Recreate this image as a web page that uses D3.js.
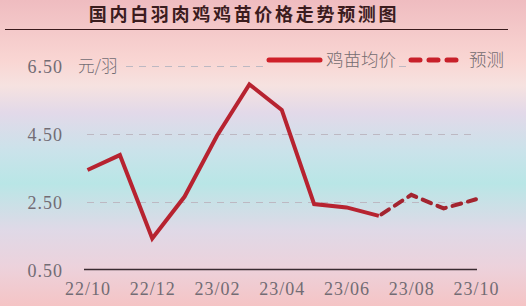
<!DOCTYPE html>
<html>
<head>
<meta charset="utf-8">
<script src="https://cdn.jsdelivr.net/npm/d3@7/dist/d3.min.js"></script>
<style>
  html, body { margin: 0; padding: 0; background: #fff; }
  svg { display: block; }
</style>
</head>
<body>
<svg id="chart" width="526" height="306"></svg>
<script>
// Monthly average price of white-feather broiler chicks (yuan per chick)
const months = ["22/10","22/11","22/12","23/01","23/02","23/03","23/04","23/05","23/06","23/07","23/08","23/09","23/10"];
const actual = [3.44, 3.88, 1.43, 2.66, 4.45, 5.96, 5.21, 2.44, 2.34, 2.09, null, null, null];
const forecast = [null, null, null, null, null, null, null, null, null, 2.09, 2.71, 2.31, 2.58];
const tickLabels = ["22/10","22/12","23/02","23/04","23/06","23/08","23/10"];
const yTicks = [0.5, 2.5, 4.5, 6.5];

const W = 526, H = 306;
const svg = d3.select("#chart");

// vertical pastel background
const defs = svg.append("defs");
const bg = defs.append("linearGradient")
  .attr("id", "bg").attr("gradientUnits", "userSpaceOnUse")
  .attr("x1", 0).attr("y1", 0).attr("x2", 0).attr("y2", H);
[[0, "#efbcc0"], [0.2, "#f9d6d3"], [0.28, "#f6e2e0"], [0.37, "#e2d9e9"], [0.5, "#c9e3ea"],
 [0.6, "#b9e6e6"], [0.75, "#dfd9e7"], [0.87, "#ecd2dc"], [1, "#f5c4c5"]]
  .forEach(([o, c]) => bg.append("stop").attr("offset", o).attr("stop-color", c));
svg.append("rect").attr("width", W).attr("height", H).attr("fill", "url(#bg)");

// title
svg.append("text")
  .attr("x", 244).attr("y", 21)
  .attr("text-anchor", "middle")
  .attr("font-family", "'Noto Sans CJK SC', sans-serif")
  .attr("font-weight", 700).attr("font-size", 18)
  .attr("letter-spacing", 2.7)
  .attr("fill", "#3b1c1e")
  .text("国内白羽肉鸡鸡苗价格走势预测图");
svg.append("line").attr("x1", 5).attr("x2", 508).attr("y1", 29.5).attr("y2", 29.5)
  .attr("stroke", "#3a1a1c").attr("stroke-width", 1.2);

const x = d3.scalePoint().domain(months).range([87.5, 476]);
const y = d3.scaleLinear().domain([0.5, 6.5]).range([270, 66]);

// dashed grid
const grid = svg.append("g").attr("transform", "translate(87,0)")
  .call(d3.axisLeft(y).tickValues(yTicks.slice(1)).tickSize(-388).tickFormat(""));
grid.select(".domain").remove();
grid.selectAll(".tick line").attr("stroke", "#bdb8c2").attr("stroke-width", 1)
  .attr("stroke-dasharray", "7,6");

// y tick labels
const yAxis = svg.append("g").attr("transform", "translate(63,0)")
  .call(d3.axisLeft(y).tickValues(yTicks).tickSize(0).tickPadding(0).tickFormat(d3.format(".2f")));
yAxis.select(".domain").remove();
yAxis.selectAll("text")
  .attr("font-family", "'Liberation Serif', serif").attr("font-size", 18)
  .attr("letter-spacing", 1).attr("fill", "#726c74").attr("dy", "0.36em");

// x axis
svg.append("line").attr("x1", 84).attr("x2", 477).attr("y1", 269.5).attr("y2", 269.5)
  .attr("stroke", "#3a2a30").attr("stroke-width", 1.5);
const xAxis = svg.append("g").attr("transform", "translate(0,270)")
  .call(d3.axisBottom(x).tickValues(tickLabels).tickSize(0).tickPadding(12));
xAxis.select(".domain").remove();
xAxis.selectAll("text")
  .attr("font-family", "'Liberation Serif', serif").attr("font-size", 18)
  .attr("letter-spacing", 1).attr("fill", "#726c74");

// unit label and legend sit on a patch of background that hides the grid
const cover = svg.append("g");
[[76, 46], [264, 133], [406, 100]].forEach(([cx, cw]) =>
  cover.append("rect").attr("x", cx).attr("y", 52).attr("width", cw).attr("height", 18).attr("fill", "url(#bg)"));

svg.append("text").attr("x", 78).attr("y", 72)
  .attr("font-family", "'Noto Sans CJK SC', sans-serif").attr("font-weight", 300).attr("font-size", 16.5)
  .attr("fill", "#726c74").text("元/羽");

// lines
const line = d3.line().defined(d => d[1] !== null).x(d => x(d[0])).y(d => y(d[1]));
svg.append("path").datum(months.map((m, i) => [m, actual[i]]))
  .attr("d", line).attr("fill", "none").attr("stroke", "#b72330")
  .attr("stroke-width", 4).attr("stroke-linejoin", "miter");
svg.append("path").datum(months.map((m, i) => [m, forecast[i]]))
  .attr("d", line).attr("fill", "none").attr("stroke", "#a3242f")
  .attr("stroke-width", 4).attr("stroke-dasharray", "9,7").attr("stroke-dashoffset", -3)
  .attr("stroke-linecap", "round");

// legend
const lg = svg.append("g");
lg.append("line").attr("x1", 269).attr("x2", 320).attr("y1", 60).attr("y2", 60)
  .attr("stroke", "#cf2029").attr("stroke-width", 5).attr("stroke-linecap", "round");
lg.append("text").attr("x", 326).attr("y", 66)
  .attr("font-family", "'Noto Sans CJK SC', sans-serif").attr("font-weight", 300).attr("font-size", 17.5)
  .attr("fill", "#746c70").text("鸡苗均价");
lg.append("line").attr("x1", 411).attr("x2", 457).attr("y1", 60).attr("y2", 60)
  .attr("stroke", "#c8202a").attr("stroke-width", 5).attr("stroke-linecap", "round")
  .attr("stroke-dasharray", "9,9");
lg.append("text").attr("x", 469).attr("y", 66)
  .attr("font-family", "'Noto Sans CJK SC', sans-serif").attr("font-weight", 300).attr("font-size", 17.5)
  .attr("fill", "#746c70").text("预测");
</script>
</body>
</html>
